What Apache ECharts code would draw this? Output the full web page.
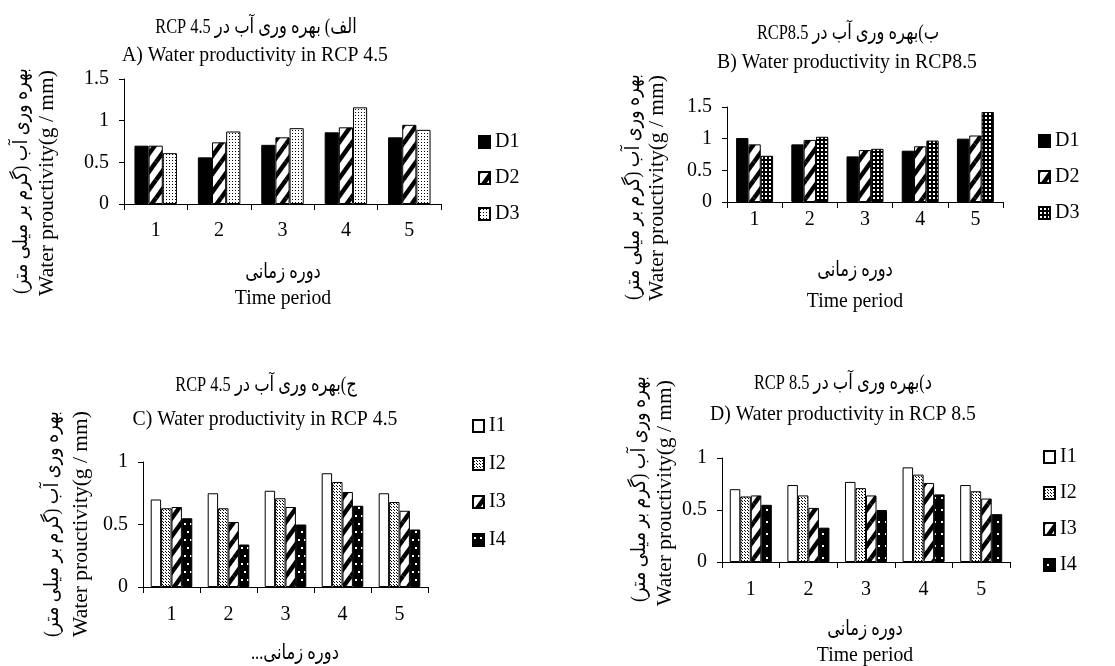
<!DOCTYPE html>
<html>
<head>
<meta charset="utf-8">
<script src="https://cdn.jsdelivr.net/npm/echarts@6/dist/echarts.min.js"></script>
<style>html,body{margin:0;padding:0;background:#fff;}#c{width:1115px;height:666px;}</style>
</head>
<body>
<div id="c"></div>
<script>
// ---------- data ----------
const categories = ['1', '2', '3', '4', '5'];
const yTicksAB = [0, 0.5, 1, 1.5];
const yTicksCD = [0, 0.5, 1];

const namesD = ['D1', 'D2', 'D3'];
const namesI = ['I1', 'I2', 'I3', 'I4'];

// A) RCP 4.5
const aD1 = [0.70, 0.56, 0.71, 0.86, 0.80];
const aD2 = [0.70, 0.74, 0.80, 0.92, 0.95];
const aD3 = [0.61, 0.87, 0.91, 1.16, 0.89];
// B) RCP 8.5
const bD1 = [1.01, 0.91, 0.72, 0.81, 1.00];
const bD2 = [0.91, 0.98, 0.82, 0.88, 1.05];
const bD3 = [0.73, 1.03, 0.84, 0.97, 1.42];
// C) RCP 4.5
const cI1 = [0.70, 0.75, 0.77, 0.91, 0.75];
const cI2 = [0.63, 0.63, 0.71, 0.84, 0.68];
const cI3 = [0.64, 0.52, 0.64, 0.76, 0.61];
const cI4 = [0.55, 0.34, 0.50, 0.65, 0.46];
// D) RCP 8.5
const dI1 = [0.70, 0.74, 0.77, 0.91, 0.74];
const dI2 = [0.63, 0.64, 0.71, 0.84, 0.68];
const dI3 = [0.64, 0.52, 0.64, 0.76, 0.61];
const dI4 = [0.55, 0.33, 0.50, 0.65, 0.46];

const titleA = ['\u202Bالف) بهره وری آب در RCP 4.5\u202C', 'A) Water productivity in RCP 4.5'];
const titleB = ['\u202Bب)بهره وری آب در RCP8.5\u202C', 'B) Water productivity in RCP8.5'];
const titleC = ['\u202Bج)بهره وری آب در RCP 4.5\u202C', 'C) Water productivity in RCP 4.5'];
const titleD = ['\u202Bد)بهره وری آب در RCP 8.5\u202C', 'D) Water productivity in RCP 8.5'];
const yName = ['\u202Bبهره وری آب (گرم بر میلی متر)\u202C', 'Water prouctivity(g / mm)'];
const xName = ['دوره زمانی', 'Time period'];
const xNameC = ['\u202Bدوره زمانی...\u202C'];

// ---------- patterns ----------
function pat(w, h, draw) {
  const c = document.createElement('canvas');
  c.width = w; c.height = h;
  const g = c.getContext('2d');
  draw(g, w, h);
  return { image: c, repeat: 'repeat' };
}
const solid = '#000';
const white = '#fff';
const stripes = pat(13, 18, (g, w, h) => {
  g.fillStyle = '#fff'; g.fillRect(0, 0, w, h);
  g.strokeStyle = '#000'; g.lineWidth = 4.5;
  for (const dx of [-w, 0, w]) for (const dy of [-h, 0, h]) {
    g.beginPath(); g.moveTo(dx, dy + h); g.lineTo(dx + w, dy); g.stroke();
  }
});
const dotsLight = pat(3, 3, (g, w, h) => {
  g.fillStyle = '#fff'; g.fillRect(0, 0, w, h);
  g.fillStyle = '#000'; g.fillRect(1, 1, 1, 1);
});
const dotsMid = pat(3, 3, (g, w, h) => {
  g.fillStyle = '#fff'; g.fillRect(0, 0, w, h);
  g.fillStyle = '#000'; g.fillRect(1, 0, 1, 1); g.fillRect(0, 2, 1, 1);
});
const gridDark = pat(4, 4, (g, w, h) => {
  g.fillStyle = '#000'; g.fillRect(0, 0, w, h);
  g.fillStyle = '#fff'; g.fillRect(1, 1, 2, 2);
});
const blackDotsC = pat(6, 16, (g, w, h) => {
  g.fillStyle = '#000'; g.fillRect(0, 0, w, h);
  g.fillStyle = '#fff'; g.fillRect(1, 3, 2, 2); g.fillRect(4, 11, 2, 2);
});
const blackDotsD = pat(7, 12, (g, w, h) => {
  g.fillStyle = '#000'; g.fillRect(0, 0, w, h);
  g.fillStyle = '#fff'; g.fillRect(3, 5, 2, 2);
});

// ---------- layout ----------
const FONT = "'Liberation Serif', 'Times New Roman', 'DejaVu Serif', 'DejaVu Sans', serif";
const FS = 20;
const SQ = 0.94; // horizontal squeeze of the reference text

// text slots: [x, y] per line
const panels = [
  { key: 'A', grid: { left: 124, top: 79, width: 317, height: 125 }, ticks: yTicksAB, names: namesD,
    data: [aD1, aD2, aD3], fills: [solid, stripes, dotsLight], gap: '33%', xMargin: 17,
    legend: { left: 473, top: 127, itemGap: 16 },
    title: [[256, 27], [255, 55]], tt: titleA,
    yname: [[22, 181], [48, 183]],
    xname: [[283, 272], [283, 298]], xt: xName },
  { key: 'B', grid: { left: 727, top: 107, width: 276, height: 95 }, ticks: yTicksAB, names: namesD,
    data: [bD1, bD2, bD3], fills: [solid, stripes, gridDark], gap: '33%', xMargin: 8,
    legend: { left: 1033, top: 126, itemGap: 16 },
    title: [[848, 33], [847, 62]], tt: titleB,
    yname: [[634, 187], [658, 188]],
    xname: [[855, 270], [855, 301]], xt: xName },
  { key: 'C', grid: { left: 143, top: 462, width: 285, height: 125 }, ticks: yTicksCD, names: namesI,
    data: [cI1, cI2, cI3, cI4], fills: [white, dotsMid, stripes, blackDotsC], gap: '27%', xMargin: 18,
    legend: { left: 467, top: 411, itemGap: 18 },
    title: [[266, 385], [265, 419]], tt: titleC,
    yname: [[53, 524], [82, 524]],
    xname: [[295, 653]], xt: xNameC },
  { key: 'D', grid: { left: 722, top: 458, width: 288, height: 104 }, ticks: yTicksCD, names: namesI,
    data: [dI1, dI2, dI3, dI4], fills: [white, dotsMid, stripes, blackDotsD], gap: '27%', xMargin: 18,
    legend: { left: 1038, top: 442, itemGap: 16 },
    title: [[843, 383], [843, 414]], tt: titleD,
    yname: [[640, 489], [666, 493]],
    xname: [[865, 629], [865, 655]], xt: xName }
];

const axisLineStyle = { color: '#000', width: 1 };
const option = {
  animation: false,
  backgroundColor: '#fff',
  grid: [], xAxis: [], yAxis: [], series: [], legend: [], graphic: []
};

const isFa = (s) => /[\u0600-\u06FF]/.test(s);
function textEl(pos, str, vertical) {
  const fa = isFa(str);
  const size = vertical ? 21.5 : 21;
  const along = fa ? (vertical ? 0.82 : 0.78) : (vertical ? 1 : SQ);   // squeeze along the reading direction
  const across = vertical ? SQ : 1;
  return {
    type: 'text', x: pos[0], y: pos[1], silent: true,
    rotation: vertical ? Math.PI / 2 : 0,
    scaleX: along, scaleY: across,
    style: { text: str, fill: '#000', fontSize: size, fontFamily: FONT,
      align: 'center', verticalAlign: 'middle' }
  };
}

panels.forEach((p, i) => {
  option.grid.push(p.grid);
  option.xAxis.push({
    type: 'category', gridIndex: i, data: categories,
    axisLine: { lineStyle: axisLineStyle },
    axisTick: { show: true, length: 6, lineStyle: axisLineStyle },
    axisLabel: { color: '#000', fontSize: FS, fontFamily: FONT, margin: p.xMargin }
  });
  option.yAxis.push({
    type: 'value', gridIndex: i,
    min: p.ticks[0], max: p.ticks[p.ticks.length - 1], interval: p.ticks[1] - p.ticks[0],
    axisLine: { show: true, lineStyle: axisLineStyle },
    axisTick: { show: true, length: 5, lineStyle: axisLineStyle },
    splitLine: { show: false },
    axisLabel: { color: '#000', fontSize: FS, fontFamily: FONT, margin: 15 }
  });
  const legendData = [];
  p.names.forEach((n, k) => {
    const sname = p.key + ':' + n;
    legendData.push(sname);
    option.series.push({
      type: 'bar', name: sname, xAxisIndex: i, yAxisIndex: i,
      data: p.data[k], barGap: '0%', barCategoryGap: p.gap,
      itemStyle: { color: p.fills[k], borderColor: '#000', borderWidth: 1 }
    });
  });
  option.legend.push({
    orient: 'vertical', left: p.legend.left, top: p.legend.top, itemGap: p.legend.itemGap,
    itemWidth: 11, itemHeight: 12, icon: 'rect', selectedMode: false,
    data: legendData, formatter: (n) => n.split(':')[1],
    textStyle: { color: '#000', fontSize: FS, fontFamily: FONT, lineHeight: 20 }
  });
  p.tt.forEach((s, k) => option.graphic.push(textEl(p.title[k], s, false)));
  yName.forEach((s, k) => option.graphic.push(textEl(p.yname[k], s, true)));
  p.xt.forEach((s, k) => option.graphic.push(textEl(p.xname[k], s, false)));
});

const chart = echarts.init(document.getElementById('c'), null, { renderer: 'canvas' });
chart.setOption(option);
</script>
</body>
</html>
